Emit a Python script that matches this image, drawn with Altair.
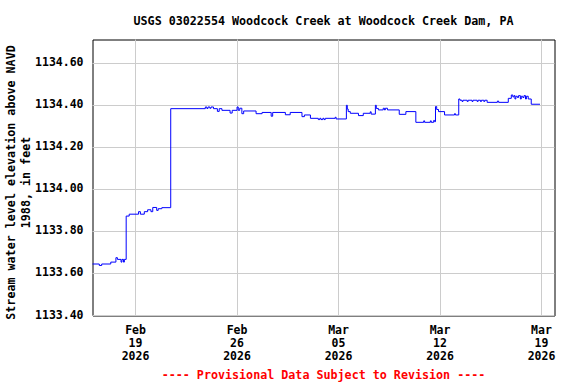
import altair as alt
import pandas as pd

# ---- data (UTC timestamps, feet) ----
times = [
    "2026-02-16T00:00", "2026-02-16T12:00", "2026-02-16T16:00", "2026-02-17T07:00",
    "2026-02-17T15:30", "2026-02-17T18:00", "2026-02-18T00:00", "2026-02-18T01:30",
    "2026-02-18T04:00", "2026-02-18T05:30", "2026-02-18T08:30", "2026-02-18T13:30",
    "2026-02-19T05:00", "2026-02-19T08:00", "2026-02-19T14:30", "2026-02-19T20:00",
    "2026-02-20T01:30", "2026-02-20T04:30", "2026-02-20T11:00", "2026-02-20T13:30",
    "2026-02-20T19:30", "2026-02-21T10:15",
    "2026-02-23T19:30", "2026-02-23T22:00", "2026-02-24T00:00", "2026-02-24T03:00",
    "2026-02-24T05:00", "2026-02-24T09:00", "2026-02-24T15:30", "2026-02-24T18:30",
    "2026-02-24T23:00", "2026-02-25T12:30", "2026-02-25T16:00", "2026-02-26T00:00",
    "2026-02-26T02:00", "2026-02-26T04:30", "2026-02-26T08:00", "2026-02-26T11:00",
    "2026-02-27T07:30", "2026-02-27T17:30", "2026-02-28T08:30", "2026-02-28T11:00",
    "2026-03-01T08:00", "2026-03-01T16:00", "2026-03-02T11:30", "2026-03-02T15:30",
    "2026-03-03T01:30", "2026-03-03T14:30", "2026-03-03T17:00", "2026-03-03T19:00",
    "2026-03-03T22:00", "2026-03-04T00:00", "2026-03-04T02:00", "2026-03-04T18:30",
    "2026-03-04T20:00", "2026-03-05T13:00", "2026-03-05T14:30", "2026-03-05T16:00",
    "2026-03-05T19:30", "2026-03-06T09:00", "2026-03-06T17:00", "2026-03-07T04:30",
    "2026-03-07T06:00", "2026-03-07T13:00", "2026-03-07T14:30", "2026-03-07T18:00",
    "2026-03-08T02:00", "2026-03-08T04:00", "2026-03-08T05:30", "2026-03-08T09:00",
    "2026-03-09T04:30", "2026-03-09T15:30", "2026-03-10T08:00", "2026-03-10T21:00",
    "2026-03-10T22:30", "2026-03-11T08:00", "2026-03-11T09:30", "2026-03-11T13:30",
    "2026-03-11T15:00", "2026-03-11T16:30", "2026-03-11T18:30", "2026-03-11T21:30",
    "2026-03-12T07:30", "2026-03-13T00:00", "2026-03-13T01:30", "2026-03-13T07:00",
    "2026-03-13T09:00", "2026-03-13T12:30", "2026-03-13T14:00", "2026-03-13T21:00",
    "2026-03-13T22:30", "2026-03-14T05:00", "2026-03-14T06:30", "2026-03-14T13:30",
    "2026-03-14T15:00", "2026-03-14T19:00", "2026-03-14T20:30", "2026-03-15T00:30",
    "2026-03-15T02:00", "2026-03-15T06:00", "2026-03-15T23:00", "2026-03-16T01:00",
    "2026-03-16T17:00", "2026-03-16T22:00", "2026-03-17T00:30", "2026-03-17T02:30",
    "2026-03-17T04:00", "2026-03-17T05:30", "2026-03-17T08:00", "2026-03-17T10:00",
    "2026-03-17T13:00", "2026-03-17T14:30", "2026-03-17T17:00", "2026-03-17T19:00",
    "2026-03-17T21:30", "2026-03-17T23:00", "2026-03-18T02:00", "2026-03-18T07:00",
    "2026-03-18T21:30",
]
levels = [
    1133.645, 1133.638, 1133.645, 1133.654,
    1133.675, 1133.667, 1133.654, 1133.667,
    1133.654, 1133.667, 1133.873, 1133.882,
    1133.894, 1133.882, 1133.894, 1133.903,
    1133.894, 1133.914, 1133.900, 1133.908,
    1133.913, 1134.384,
    1134.392, 1134.385, 1134.392, 1134.386,
    1134.392, 1134.384, 1134.371, 1134.384,
    1134.376, 1134.363, 1134.376, 1134.392,
    1134.376, 1134.386, 1134.360, 1134.373,
    1134.360, 1134.366, 1134.348, 1134.366,
    1134.355, 1134.366, 1134.346, 1134.354,
    1134.338, 1134.332, 1134.338, 1134.332,
    1134.338, 1134.332, 1134.338, 1134.343,
    1134.335, 1134.400, 1134.382, 1134.370,
    1134.362, 1134.351, 1134.362, 1134.369,
    1134.358, 1134.400, 1134.385, 1134.378,
    1134.386, 1134.378, 1134.386, 1134.378,
    1134.357, 1134.370, 1134.319, 1134.326,
    1134.319, 1134.326, 1134.319, 1134.328,
    1134.322, 1134.394, 1134.380, 1134.370,
    1134.354, 1134.360, 1134.354, 1134.430,
    1134.424, 1134.418, 1134.424, 1134.418,
    1134.424, 1134.418, 1134.424, 1134.418,
    1134.424, 1134.418, 1134.424, 1134.418,
    1134.424, 1134.414, 1134.420, 1134.414,
    1134.433, 1134.449, 1134.440, 1134.446,
    1134.430, 1134.443, 1134.437, 1134.446,
    1134.430, 1134.443, 1134.437, 1134.446,
    1134.430, 1134.443, 1134.430, 1134.405,
    1134.405,
]

title_text = "USGS 03022554 Woodcock Creek at Woodcock Creek Dam, PA"
y_title = ["Stream water level elevation above NAVD", "1988, in feet"]
footer_text = "---- Provisional Data Subject to Revision ----"
y_ticks = [1133.4, 1133.6, 1133.8, 1134.0, 1134.2, 1134.4, 1134.6]
y_domain = [1133.4, 1134.713]
x_tick_days = [(2, 19), (2, 26), (3, 5), (3, 12), (3, 19)]

FONT = "DejaVu Sans Mono"

df = pd.DataFrame({"time": [t + ":00Z" for t in times], "level": levels})

x_values = [alt.DateTime(year=2026, month=m, date=d, utc=True) for m, d in x_tick_days]
x_domain = [
    alt.DateTime(year=2026, month=2, date=16, hours=0, minutes=45, utc=True),
    alt.DateTime(year=2026, month=3, date=19, hours=21, minutes=30, utc=True),
]

chart = (
    alt.Chart(df)
    .mark_line(interpolate="step-after", color="#0000ff", strokeWidth=1, clip=True)
    .encode(
        x=alt.X(
            "time:T",
            scale=alt.Scale(type="utc", domain=x_domain, nice=False),
            axis=alt.Axis(
                values=x_values,
                labelExpr="[utcFormat(datum.value, '%b'), utcFormat(datum.value, '%d'), utcFormat(datum.value, '%Y')]",
                labelFont=FONT,
                labelFontSize=11.5,
                labelFontWeight="bold",
                labelColor="black",
                labelLineHeight=13,
                labelBaseline="top",
                labelPadding=9,
                labelFlush=False,
                labelOverlap=False,
                ticks=False,
                tickSize=0,
                domain=False,
                grid=True,
                gridColor="#cccccc",
                translate=0,
                title=footer_text,
                titleFont=FONT,
                titleFontSize=11.7,
                titleFontWeight="bold",
                titleColor="#ff0000",
                titleBaseline="top",
                titleY=54,
            ),
        ),
        y=alt.Y(
            "level:Q",
            scale=alt.Scale(domain=y_domain, nice=False, zero=False),
            axis=alt.Axis(
                values=y_ticks,
                format=".2f",
                labelFont=FONT,
                labelFontSize=11.5,
                labelFontWeight="bold",
                labelColor="black",
                labelPadding=9,
                labelFlush=False,
                ticks=False,
                tickSize=0,
                domain=False,
                grid=True,
                gridColor="#cccccc",
                translate=0,
                title=y_title,
                titleFont=FONT,
                titleFontSize=11.7,
                titleFontWeight="bold",
                titleColor="black",
                titleAngle=270,
                titleBaseline="top",
                titleAlign="center",
                titleLineHeight=15,
                titleX=-87,
                titleY=143,
            ),
        ),
    )
    .properties(
        width=462,
        height=276,
        title=alt.TitleParams(
            text=title_text,
            font=FONT,
            fontSize=11.7,
            fontWeight="bold",
            color="black",
            anchor="middle",
            offset=12,
        ),
        autosize=alt.AutoSizeParams(type="none"),
        padding={"left": 92.5, "top": 39.5, "right": 21.5, "bottom": 68.5},
    )
    .configure(background="white")
    .configure_view(stroke="black", strokeWidth=1)
)

chart.save("out.html", embed_options={"renderer": "svg", "actions": False})
